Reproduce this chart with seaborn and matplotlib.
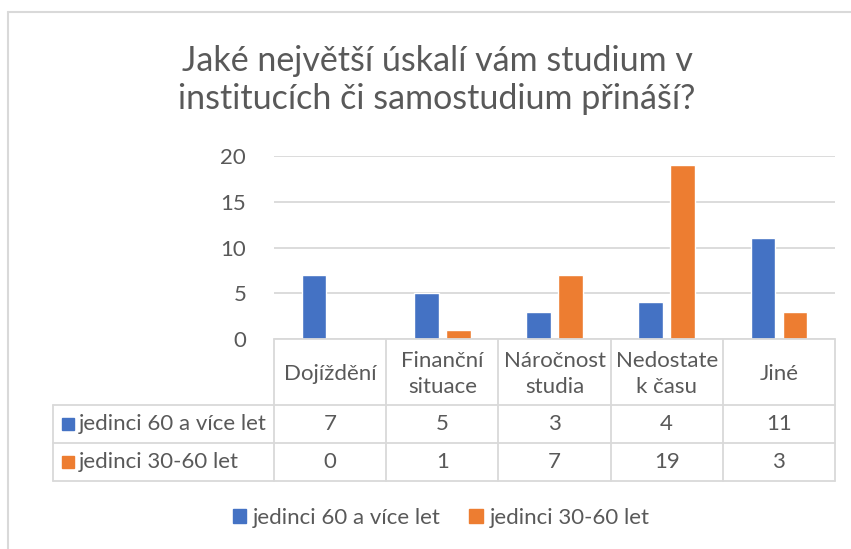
import matplotlib
matplotlib.use("Agg")
import matplotlib.pyplot as plt
import matplotlib.lines as mlines
import matplotlib.patches as mpatches
import seaborn as sns
import pandas as pd

categories = ["Dojíždění", "Finanční\nsituace", "Náročnost\nstudia", "Nedostate\nk času", "Jiné"]
series_names = ["jedinci 60 a více let", "jedinci 30-60 let"]
values_60_plus = [7, 5, 3, 4, 11]
values_30_60 = [0, 1, 7, 19, 3]
y_ticks = [0, 5, 10, 15, 20]
title = "Jaké největší úskalí vám studium v\ninstitucích či samostudium přináší?"

colors = ["#4472C4", "#ED7D31"]
text_color = "#595959"
grid_color = "#D9D9D9"

df = pd.DataFrame({
    "cat": categories * 2,
    "series": [series_names[0]] * 5 + [series_names[1]] * 5,
    "value": values_60_plus + values_30_60,
})

sns.set_theme(style="white")
plt.rcParams["font.family"] = ["Lato", "DejaVu Sans"]

W, H = 851, 549
fig = plt.figure(figsize=(W / 100, H / 100), dpi=100)

def fx(px):
    return px / W

def fy(py):
    return 1 - py / H

ax_left, ax_right, ax_top, ax_bot = 274, 835, 156, 339
ax = fig.add_axes([fx(ax_left), fy(ax_bot), fx(ax_right) - fx(ax_left), fy(ax_top) - fy(ax_bot)])

sns.barplot(data=df, x="cat", y="value", hue="series", palette=colors,
            width=0.57, gap=0.23, ax=ax, legend=False, saturation=1)

fs = 16
ax.set_xlim(-0.5, len(categories) - 0.5)
ax.set_ylim(0, 20)
ax.set_yticks(y_ticks)
ax.set_yticklabels([str(t) for t in y_ticks], color=text_color, fontsize=fs)
ax.tick_params(axis="y", length=0, pad=20)
ax.set_xticks([])
ax.set_xlabel("")
ax.set_ylabel("")
for s in ax.spines.values():
    s.set_visible(False)
ax.yaxis.grid(True, color=grid_color, linewidth=1.3)
ax.set_axisbelow(True)

# Chart frame
fig.add_artist(mlines.Line2D([fx(8), fx(8)], [fy(12), 0], color=grid_color, lw=1.5))
fig.add_artist(mlines.Line2D([fx(8), 1], [fy(12), fy(12)], color=grid_color, lw=1.5))

# Title
fig.text(fx(437), fy(80), title, ha="center", va="center", fontsize=24.5,
         color=text_color, linespacing=1.22)

# Data table
tbl_left = 53
row_y = [339, 405, 443, 481]
col_x = [ax_left + i * (ax_right - ax_left) / len(categories) for i in range(len(categories) + 1)]
lw = 1.3
fig.add_artist(mlines.Line2D([fx(ax_left), fx(ax_right)], [fy(row_y[0]), fy(row_y[0])], color=grid_color, lw=lw))
for yy in row_y[1:]:
    fig.add_artist(mlines.Line2D([fx(tbl_left), fx(ax_right)], [fy(yy), fy(yy)], color=grid_color, lw=lw))
for xx in col_x:
    fig.add_artist(mlines.Line2D([fx(xx), fx(xx)], [fy(row_y[0]), fy(row_y[3])], color=grid_color, lw=lw))
fig.add_artist(mlines.Line2D([fx(tbl_left), fx(tbl_left)], [fy(row_y[1]), fy(row_y[3])], color=grid_color, lw=lw))

for i, c in enumerate(categories):
    cx = (col_x[i] + col_x[i + 1]) / 2
    fig.text(fx(cx), fy((row_y[0] + row_y[1]) / 2 + 2), c, ha="center", va="center",
             fontsize=fs, color=text_color, linespacing=1.32)
for r, (name, vals) in enumerate(zip(series_names, [values_60_plus, values_30_60])):
    cy = (row_y[r + 1] + row_y[r + 2]) / 2
    fig.add_artist(mpatches.Rectangle((fx(62), fy(cy + 6)), fx(12), 12 / H,
                                      color=colors[r], transform=fig.transFigure))
    fig.text(fx(79), fy(cy), name, ha="left", va="center", fontsize=fs, color=text_color)
    for i, v in enumerate(vals):
        cx = (col_x[i] + col_x[i + 1]) / 2
        fig.text(fx(cx), fy(cy), str(v), ha="center", va="center", fontsize=fs, color=text_color)

# Legend
handles = [mpatches.Patch(color=colors[k], label=series_names[k]) for k in range(2)]
fig.legend(handles=handles, loc="center", bbox_to_anchor=(fx(441), fy(518)), ncol=2,
           frameon=False, fontsize=fs, labelcolor=text_color, handlelength=0.6,
           handleheight=0.6, handletextpad=0.3, columnspacing=1.3)

fig.savefig("out.png", dpi=100)
